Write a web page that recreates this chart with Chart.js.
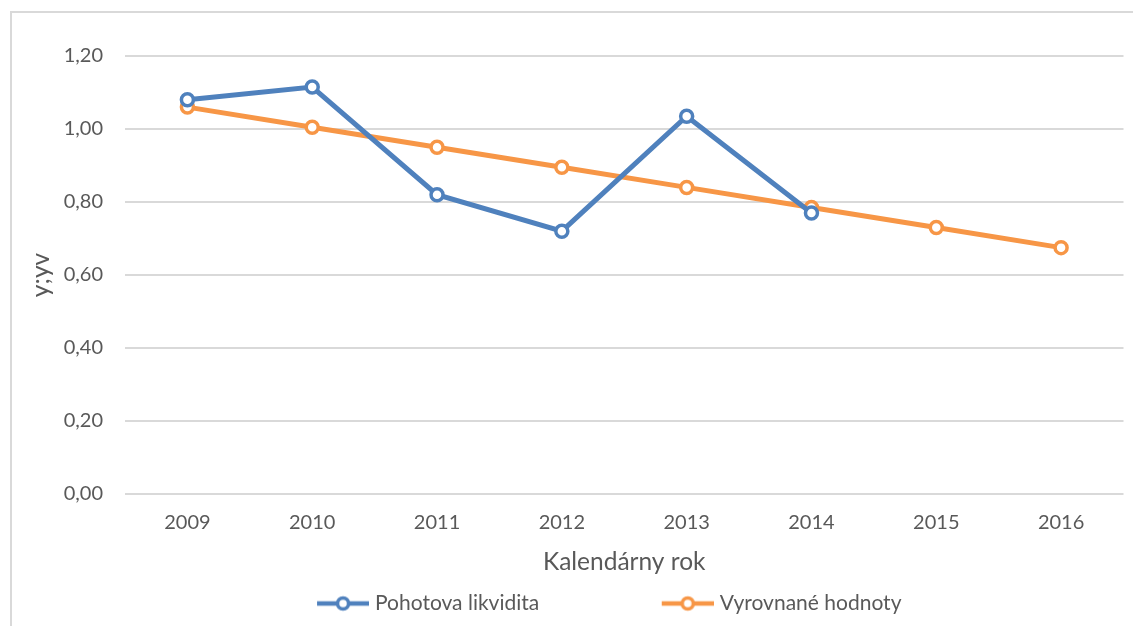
<!DOCTYPE html>
<html>
<head>
<meta charset="utf-8">
<script src="https://cdn.jsdelivr.net/npm/chart.js@4"></script>
<style>
  html, body { margin: 0; padding: 0; background: #fff; }
  #wrap { width: 1133px; height: 626px; position: relative; }
</style>
</head>
<body>
<div id="wrap"><canvas id="myChart"></canvas></div>
<script>
const years = ['2009', '2010', '2011', '2012', '2013', '2014', '2015', '2016'];
const pohotova = [1.08, 1.115, 0.82, 0.72, 1.035, 0.77, null, null];
const vyrovnane = [1.06, 1.005, 0.95, 0.895, 0.84, 0.785, 0.73, 0.675];
const yMin = 0;
const yMax = 1.2;
const yStep = 0.2;

const blue = '#4F81BD';
const orange = '#F79646';
const textColor = '#595959';
const gridColor = '#D9D9D9';
const fontFamily = 'Lato, "Open Sans", sans-serif';

// legend marker: line with open circle, drawn at the right end of a wide box
const boxW = 160;
function legendMarker(color) {
  const c = document.createElement('canvas');
  c.width = boxW + 9;
  c.height = 20;
  const ctx = c.getContext('2d');
  const x0 = c.width - 52;
  ctx.strokeStyle = color;
  ctx.lineWidth = 4.5;
  ctx.beginPath();
  ctx.moveTo(x0, 10);
  ctx.lineTo(c.width, 10);
  ctx.stroke();
  ctx.beginPath();
  ctx.arc(x0 + 26, 10, 5.5, 0, Math.PI * 2);
  ctx.fillStyle = '#fff';
  ctx.fill();
  ctx.lineWidth = 3.5;
  ctx.stroke();
  return c;
}
const markers = [legendMarker(blue), legendMarker(orange)];

const frame = {
  id: 'frame',
  afterLayout(chart) {
    // legend in the original sits a little left of centre
    chart.legend.left -= 9;
    chart.legend.right -= 9;
  },
  beforeDraw(chart) {
    const ctx = chart.ctx;
    ctx.save();
    ctx.strokeStyle = gridColor;
    ctx.lineWidth = 2;
    ctx.beginPath();
    ctx.moveTo(11, chart.height);
    ctx.lineTo(11, 12);
    ctx.lineTo(chart.width, 12);
    ctx.stroke();
    ctx.restore();
  }
};

new Chart('myChart', {
  type: 'line',
  data: {
    labels: years,
    datasets: [{
      label: 'Pohotova likvidita',
      data: pohotova,
      borderColor: blue,
      backgroundColor: '#fff',
      borderWidth: 5,
      pointRadius: 6,
      pointBorderWidth: 3.5,
      pointBackgroundColor: '#fff',
      pointBorderColor: blue,
      tension: 0
    }, {
      label: 'Vyrovnané hodnoty',
      data: vyrovnane,
      borderColor: orange,
      backgroundColor: '#fff',
      borderWidth: 5,
      pointRadius: 6,
      pointBorderWidth: 3.5,
      pointBackgroundColor: '#fff',
      pointBorderColor: orange,
      tension: 0
    }]
  },
  options: {
    responsive: true,
    maintainAspectRatio: false,
    animation: false,
    layout: { padding: { left: 0, top: 56, right: 9, bottom: 2 } },
    plugins: {
      tooltip: { enabled: false },
      legend: {
        position: 'bottom',
        labels: {
          usePointStyle: true,
          pointStyleWidth: boxW,
          padding: 10,
          color: textColor,
          font: { family: fontFamily, size: 21 },
          generateLabels(chart) {
            const items = Chart.defaults.plugins.legend.labels.generateLabels(chart);
            items.forEach((it, i) => { it.pointStyle = markers[i]; });
            return items;
          }
        }
      }
    },
    scales: {
      x: {
        offset: true,
        grid: { display: false, drawTicks: false },
        border: { display: false },
        ticks: { color: textColor, font: { family: fontFamily, size: 20 }, padding: 17 },
        title: {
          display: true,
          text: 'Kalendárny rok',
          color: textColor,
          font: { family: fontFamily, size: 24.5 },
          padding: { top: 0, bottom: 6 }
        },
        afterFit(scale) { scale.height = 89; }
      },
      y: {
        min: yMin,
        max: yMax,
        grid: { color: gridColor, lineWidth: 2, drawTicks: false },
        border: { display: false },
        ticks: {
          stepSize: yStep,
          color: textColor,
          font: { family: fontFamily, size: 20 },
          padding: 22,
          callback: v => v.toFixed(2).replace('.', ',')
        },
        title: {
          display: true,
          text: 'y;yv',
          color: textColor,
          font: { family: fontFamily, size: 24.5 },
          padding: { top: 26, bottom: 0 }
        },
        afterFit(scale) { scale.width = 125; }
      }
    }
  },
  plugins: [frame]
});
</script>
</body>
</html>
